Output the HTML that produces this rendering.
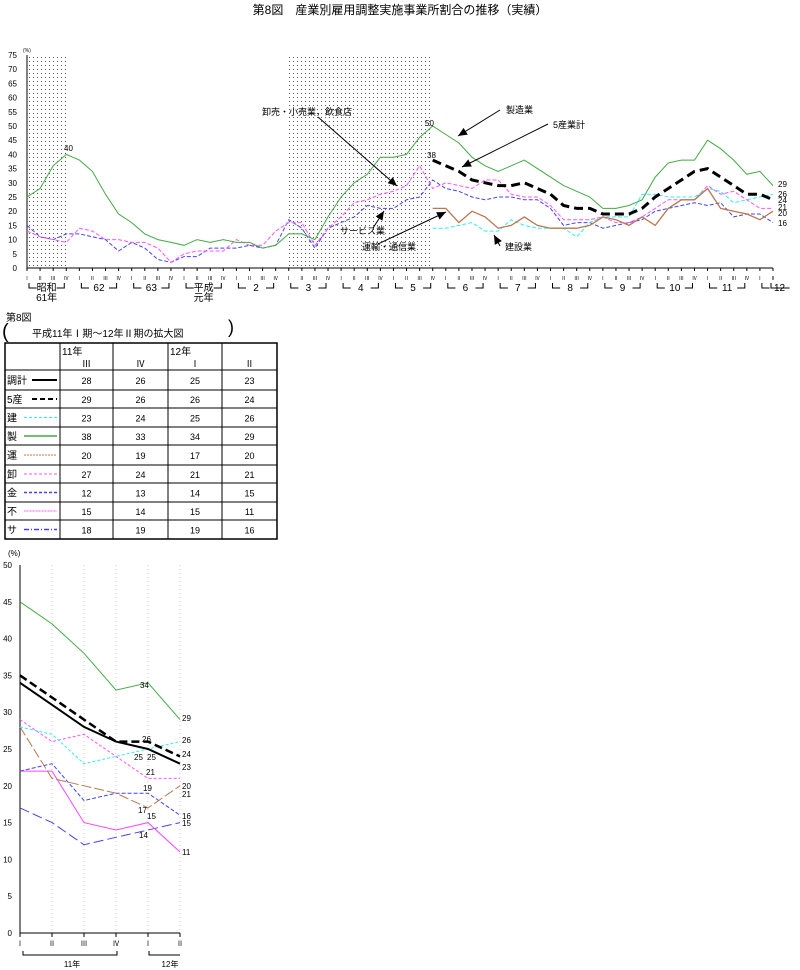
<!DOCTYPE html>
<html><head><meta charset="utf-8"><style>
body{margin:0;background:#fff;width:800px;height:970px;overflow:hidden}
svg{display:block}
text{font-family:"Liberation Sans","Noto Sans CJK JP",sans-serif;fill:#000}
</style></head><body>
<svg id="s" width="800" height="970" xmlns="http://www.w3.org/2000/svg">
<defs><pattern id="dots" width="4" height="4" patternUnits="userSpaceOnUse"><rect x="1" y="1" width="1" height="1" fill="#555"/></pattern></defs>
<text x="400" y="14" font-size="12" text-anchor="middle">第8図　産業別雇用調整実施事業所割合の推移（実績）</text>
<g id="top"></g><g id="tbl"></g><g id="bot"></g>
</svg>
<script>
// ---------- top chart data ----------
const topYTicks=[0,5,10,15,20,25,30,35,40,45,50,55,60,65,70,75];
const yearLabels=["昭和|61年","62","63","平成|元年","2","3","4","5","6","7","8","9","10","11","12"];
const quarterLabels=["Ⅰ","Ⅱ","Ⅲ","Ⅳ"];
const mfg=[25,28,36,40,38,34,26,19,16,12,10,9,8,10,9,10,9,9,7,8,12,12,10,18,25,30,33,39,39,40,46,50,47,44,39,36,34,36,38,35,32,29,27,25,21,21,22,24,32,37,38,38,45,42,38,33,34,29];
const total5=[38,36,34,31,30,29,29,30,28,26,22,21,21,19,19,19,21,25,28,31,34,35,32,29,26,26,24];
const wholesale=[13,11,10,9,14,13,10,10,9,9,7,2,5,6,6,6,10,8,8,13,16,16,8,14,18,23,24,26,27,29,36,28,30,29,28,31,31,26,25,25,22,17,17,17,18,16,16,18,21,24,24,24,29,26,27,24,21,21];
const service=[15,11,10,12,12,11,10,6,9,7,3,2,4,4,7,7,7,8,7,8,17,14,7,14,16,18,22,21,21,24,25,31,28,27,25,24,25,25,24,24,21,15,16,16,14,15,16,17,20,21,22,23,22,23,18,19,19,16];
const constr=[14,14,15,16,13,13,17,15,14,14,14,11,16,18,18,18,26,26,25,25,25,28,27,23,24,25,26];
const transport=[21,21,16,20,18,14,15,18,15,14,14,14,15,18,17,15,18,15,21,24,24,28,21,20,19,17,20];
const shaded=[[0,3],[20,31]];
// ---------- bottom chart data ----------
const botYTicks=[0,5,10,15,20,25,30,35,40,45,50];
const botX=["Ⅰ","Ⅱ","Ⅲ","Ⅳ","Ⅰ","Ⅱ"];
const bTotal=[34,31,28,26,25,23];
const b5=[35,32,29,26,26,24];
const bCon=[28,27,23,24,25,26];
const bMfg=[45,42,38,33,34,29];
const bTra=[28,21,20,19,17,20];
const bWho=[29,26,27,24,21,21];
const bFin=[22,23,18,19,19,16];
const bRe=[22,22,15,14,15,11];
const bSer=[17,15,12,13,14,15];
// ---------- table data ----------
const tRows=["調計","5産","建","製","運","卸","金","不","サ"];
const tVals=[[28,26,25,23],[29,26,26,24],[23,24,25,26],[38,33,34,29],[20,19,17,20],[27,24,21,21],[12,13,14,15],[15,14,15,11],[18,19,19,16]];

const NS="http://www.w3.org/2000/svg";
function mk(p,tag,at,txt){const e=document.createElementNS(NS,tag);for(const k in at)e.setAttribute(k,at[k]);if(txt!=null)e.textContent=txt;p.appendChild(e);return e;}

// ---------- top ----------
const T=document.getElementById('top');
const tx=i=>27+i*(773-27)/57, ty=v=>268-v*(268-55)/75;
shaded.forEach(s=>{const r=mk(T,'rect',{x:tx(s[0]),y:55,width:tx(s[1])-tx(s[0]),height:213,fill:'url(#dots)'});

});
mk(T,'line',{x1:27,y1:55,x2:27,y2:268,stroke:'#000'});
mk(T,'line',{x1:27,y1:268,x2:773,y2:268,stroke:'#000'});
topYTicks.forEach(v=>{const t=mk(T,'text',{x:17,y:ty(v)+3,'font-size':8,'text-anchor':'end'},v);

});
mk(T,'text',{x:23,y:52,'font-size':5},'(%)');
for(let i=0;i<58;i++){mk(T,'line',{x1:tx(i),y1:268,x2:tx(i),y2:271,stroke:'#000'});
const q=mk(T,'text',{x:tx(i),y:280,'font-size':5,'text-anchor':'middle'},quarterLabels[i%4]);

}
yearLabels.forEach((l,k)=>{const c=tx(4*k+1.5),parts=l.split('|');
const a=tx(4*k),b=tx(Math.min(4*k+3,57));
mk(T,'path',{d:`M${a+2} 283V288H${c-10}M${c+10} 288H${b-2}V283`,stroke:'#000',fill:'none'});
const t=mk(T,'text',{x:c,y:291,'font-size':10,'text-anchor':'middle'},parts[0]);


if(parts[1])mk(T,'text',{x:c,y:301,'font-size':10,'text-anchor':'middle'},parts[1]);});
function line(G,xs,ys,data,off,col,w,dash,name){
const d=data.map((v,i)=>(i?'L':'M')+xs(i+off).toFixed(1)+' '+ys(v).toFixed(1)).join('');
const p=mk(G,'path',{d:d,stroke:col,'stroke-width':w,fill:'none'});if(dash)p.setAttribute('stroke-dasharray',dash);

}
line(T,tx,ty,service,0,'#4444ee',1,'4 2','series-service');
line(T,tx,ty,wholesale,0,'#ff55ff',1,'4 2','series-wholesale');
line(T,tx,ty,constr,31,'#33eeee',1,'4 2','series-construction');
line(T,tx,ty,transport,31,'#b87850',1.3,null,'series-transport');
line(T,tx,ty,mfg,0,'#44aa44',1,null,'series-manufacturing');
line(T,tx,ty,total5,31,'#000',3,'9 5','series-5-industries');
[[64,151,'40'],[425,126,'50'],[427,158,'38'],[778,187,'29'],[778,197,'26'],[778,203,'24'],[778,210,'21'],[778,216,'20'],[778,226,'16']].forEach(a=>{const t=mk(T,'text',{x:a[0],y:a[1],'font-size':8},a[2]);

});
[[262,115,'卸売・小売業，飲食店'],[506,113,'製造業'],[553,128,'5産業計'],[340,234,'サービス業'],[362,250,'運輸・通信業'],[505,250,'建設業']].forEach(a=>{const t=mk(T,'text',{x:a[0],y:a[1],'font-size':9},a[2]);

});
[[318,117,397,186],[500,110,458,136],[548,124,462,167],[373,228,384,211],[378,244,446,212],[500,246,494,235]].forEach(a=>{
mk(T,'line',{x1:a[0],y1:a[1],x2:a[2],y2:a[3],stroke:'#000'});
const ang=Math.atan2(a[3]-a[1],a[2]-a[0]),L=9,W=4;
const bx=a[2]-L*Math.cos(ang),by=a[3]-L*Math.sin(ang);
mk(T,'path',{d:`M${a[2]} ${a[3]}L${bx-W*Math.sin(ang)} ${by+W*Math.cos(ang)}L${bx+W*Math.sin(ang)} ${by-W*Math.cos(ang)}Z`,fill:'#000'});});

// ---------- table ----------
const B=document.getElementById('tbl');
mk(B,'text',{x:6,y:321,'font-size':10},'第8図');
mk(B,'text',{x:2,y:338,'font-size':20},'(');
mk(B,'text',{x:228,y:333,'font-size':18},')');
mk(B,'text',{x:32,y:337,'font-size':10},'平成11年Ⅰ期～12年Ⅱ期の拡大図');
const cx=[5,60,113,168,222,277], ry=[343,370,390,408,427,445,465,483,502,520,539];
mk(B,'rect',{x:5,y:343,width:272,height:196,fill:'none',stroke:'#000','stroke-width':1.5});
cx.slice(1,5).forEach(x=>mk(B,'line',{x1:x,y1:343,x2:x,y2:539,stroke:'#000'}));
ry.slice(1,10).forEach(y=>mk(B,'line',{x1:5,y1:y,x2:277,y2:y,stroke:'#000'}));
[['11年',62],['12年',170]].forEach(a=>mk(B,'text',{x:a[1],y:355,'font-size':10},a[0]));
['Ⅲ','Ⅳ','Ⅰ','Ⅱ'].forEach((q,j)=>mk(B,'text',{x:(cx[j+1]+cx[j+2])/2,y:367,'font-size':9,'text-anchor':'middle'},q));
const sty=[['#000',2,null],['#000',2,'5 3'],['#33eeee',1,'3 2'],['#44aa44',1.5,null],['#b87850',1,'2 1'],['#ff55ff',1,'3 2'],['#4444ee',1.5,'3 2'],['#ff55ff',1,'1 0.5'],['#4444ee',1.5,'5 2 1 2']];
tRows.forEach((r,i)=>{const y=(ry[i+1]+ry[i+2])/2+4;
const t=mk(B,'text',{x:7,y:y,'font-size':10},r);


const s=sty[i];const l=mk(B,'line',{x1:r.length>1?32:24,y1:y-4,x2:57,y2:y-4,stroke:s[0],'stroke-width':s[1]});if(s[2])l.setAttribute('stroke-dasharray',s[2]);
tVals[i].forEach((v,j)=>{const c=mk(B,'text',{x:(cx[j+1]+cx[j+2])/2,y:y,'font-size':9,'text-anchor':'middle'},v);

});});

// ---------- bottom ----------
const G=document.getElementById('bot');
const bx=i=>20+i*32, by=v=>933-v*(933-565)/50;
for(let i=1;i<6;i++)mk(G,'line',{x1:bx(i),y1:565,x2:bx(i),y2:933,stroke:'#ccc','stroke-dasharray':'1 3'});
mk(G,'line',{x1:20,y1:565,x2:20,y2:933,stroke:'#000'});
mk(G,'line',{x1:20,y1:933,x2:180,y2:933,stroke:'#000'});
mk(G,'text',{x:8,y:556,'font-size':8},'(%)');
botYTicks.forEach(v=>{const t=mk(G,'text',{x:12,y:by(v)+3,'font-size':8,'text-anchor':'end'},v);

});
botX.forEach((q,i)=>{mk(G,'line',{x1:bx(i),y1:933,x2:bx(i),y2:937,stroke:'#000'});
const t=mk(G,'text',{x:bx(i),y:946,'font-size':7,'text-anchor':'middle'},q);

});
mk(G,'path',{d:'M23 951V955H117V951M149 951V955H180',stroke:'#000',fill:'none'});
mk(G,'text',{x:72,y:967,'font-size':8,'text-anchor':'middle'},'11年');
mk(G,'text',{x:170,y:967,'font-size':8,'text-anchor':'middle'},'12年');
line(G,bx,by,bSer,0,'#4444ee',1,'10 4','bottom-series-service');
line(G,bx,by,bRe,0,'#ff44ff',1,null,'bottom-series-realestate');
line(G,bx,by,bFin,0,'#4444ee',1,'4 2','bottom-series-finance');
line(G,bx,by,bTra,0,'#b87850',1,'10 3','bottom-series-transport');
line(G,bx,by,bWho,0,'#ff55ff',1,'3 2','bottom-series-wholesale');
line(G,bx,by,bCon,0,'#33eeee',1,'3 2','bottom-series-construction');
line(G,bx,by,bMfg,0,'#44aa44',1,null,'bottom-series-manufacturing');
line(G,bx,by,b5,0,'#000',2.5,'8 4','bottom-series-5-industries');
line(G,bx,by,bTotal,0,'#000',2,null,'bottom-series-total');
[[140,688,'34'],[182,721,'29'],[142,742,'26'],[182,743,'26'],[182,757,'24'],[182,770,'23'],[134,760,'25'],[147,760,'25'],[146,775,'21'],[182,797,'21'],[182,789,'20'],[143,791,'19'],[138,813,'17'],[147,819,'15'],[182,819,'16'],[182,826,'15'],[139,838,'14'],[182,855,'11']].forEach(a=>{const t=mk(G,'text',{x:a[0],y:a[1],'font-size':8},a[2]);

});
</script>
</body></html>
